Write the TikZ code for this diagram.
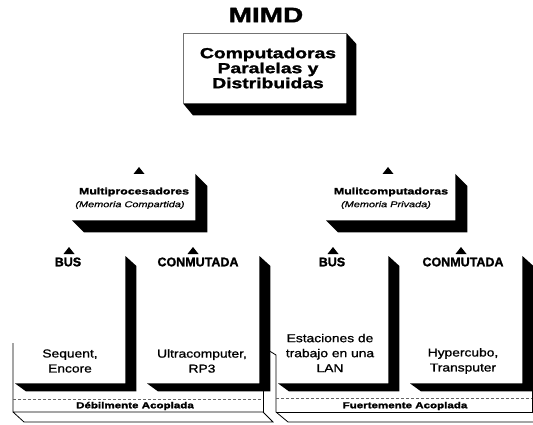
\documentclass[tikz,border=0pt]{standalone}
\usepackage{fontspec}
\setmainfont{Liberation Sans}
\newfontfamily\hvA[FakeStretch=1.33,RawFeature={embolden=1.8}]{Liberation Sans Bold}
\newfontfamily\hvC[RawFeature={embolden=1.6}]{Liberation Sans Bold}
\newfontfamily\itA[FakeStretch=1.3,RawFeature={embolden=0.6}]{Liberation Sans Italic}
\newfontfamily\stB[FakeStretch=1.2,RawFeature={embolden=1.0}]{Liberation Sans}
\usetikzlibrary{calc}
\begin{document}
\begin{tikzpicture}[x=1pt,y=-1pt,
  wbox/.style={draw=none,fill=white,inner sep=0pt,anchor=north west},
  shade3d/.style={fill=black},
  tri/.style={fill=black},
  lbl/.style={inner sep=0pt,align=center},
  plat/.style={draw=black,line width=0.8pt}]
\useasboundingbox[fill=white] (0,0) rectangle (533,425);

% platforms
\draw[plat] (13,343) -- (13,412) -- (24,422) -- (273,422) -- (263,412) -- (13,412);
\draw[plat] (263,385) -- (263,412);
\draw[black!60,line width=0.5pt,dash pattern=on 3pt off 2pt] (13,399) -- (263,399);
\draw[plat] (263,347) -- (276,355) -- (276,412) -- (288,422) -- (533,422);
\draw[plat] (276,412) -- (533,412);
\draw[plat] (532,385) -- (532,412);
\draw[black!60,line width=0.5pt,dash pattern=on 3pt off 2pt] (276,398) -- (532,398);

% boxes
\node[wbox,minimum width=163pt,minimum height=70pt] (top) at (183,33) {};
\node[wbox,minimum width=123pt,minimum height=46pt] (mp) at (72,174) {};
\node[wbox,minimum width=129pt,minimum height=46pt] (mc) at (326,174) {};
\node[wbox,minimum width=110pt,minimum height=127pt] (bus1) at (15,256) {};
\node[wbox,minimum width=112pt,minimum height=127pt] (con1) at (147,256) {};
\node[wbox,minimum width=110pt,minimum height=127pt] (bus2) at (278,256) {};
\node[wbox,minimum width=112pt,minimum height=127pt] (con2) at (410,256) {};

% top box border
\draw[black!55,line width=0.6pt] (top.south west) -- (top.north west) -- (top.north east);

% shadows
\fill[shade3d] (top.north east) -- ++(10,11) -- ($(top.south east)+(10,12)$) -- ($(top.south west)+(10,12)$) -- (top.south west) -- (top.south east) -- cycle;
\foreach \b in {mp,mc}{
  \fill[shade3d] (\b.north east) -- ++(12,12) -- ($(\b.south east)+(12,12)$) -- ($(\b.south west)+(12,12)$) -- (\b.south west) -- (\b.south east) -- cycle;
}
\foreach \b in {bus1,con1,bus2,con2}{
  \fill[shade3d] (\b.north east) -- ++(11,10) -- ($(\b.south east)+(11,8)$) -- ($(\b.south west)+(11,8)$) -- (\b.south west) -- (\b.south east) -- cycle;
}

% triangles
\foreach \x/\y in {139/174, 388/174, 69/254, 193/254, 333/254, 461/254}{
  \fill[tri] (\x-5.5,\y) -- (\x+5.5,\y) -- (\x,\y-7) -- cycle;
}

% texts
\node[lbl,font=\hvA\fontsize{21}{21}\selectfont] (mimd) at (266,15) {MIMD};
\node[lbl,font=\hvA\fontsize{14.5}{15}\selectfont] (toptxt) at (268,68) {Computadoras\\Paralelas y\\Distribuidas};

\node[lbl,font=\hvA\fontsize{9.3}{10}\selectfont] (mpt) at (134,192) {Multiprocesadores};
\node[lbl,font=\itA\fontsize{8.4}{10}\selectfont] (mps) at (130,205) {(Memoria Compartida)};
\node[lbl,font=\hvA\fontsize{9.3}{10}\selectfont] (mct) at (391,192) {Mulitcomputadoras};
\node[lbl,font=\itA\fontsize{8.4}{10}\selectfont] (mcs) at (386,205) {(Memoria Privada)};

\node[lbl,font=\hvC\fontsize{12.5}{13}\selectfont] (bus1t) at (68,262) {BUS};
\node[lbl,font=\hvC\fontsize{12.5}{13}\selectfont] (con1t) at (198,262) {CONMUTADA};
\node[lbl,font=\hvC\fontsize{12.5}{13}\selectfont] (bus2t) at (332,262) {BUS};
\node[lbl,font=\hvC\fontsize{12.5}{13}\selectfont] (con2t) at (463,262) {CONMUTADA};

\node[lbl,font=\stB\fontsize{11.5}{15}\selectfont] (bus1b) at (70,361) {Sequent,\\Encore};
\node[lbl,font=\stB\fontsize{11.5}{15}\selectfont] (con1b) at (202,361) {Ultracomputer,\\RP3};
\node[lbl,font=\stB\fontsize{11.5}{15}\selectfont] (bus2b) at (330,353) {Estaciones de\\trabajo en una\\LAN};
\node[lbl,font=\stB\fontsize{11.5}{15}\selectfont] (con2b) at (463,361) {Hypercubo,\\Transputer};

\node[lbl,font=\hvA\fontsize{8.7}{10}\selectfont] (p1) at (135,406) {Débilmente Acoplada};
\node[lbl,font=\hvA\fontsize{8.7}{10}\selectfont] (p2) at (405,406) {Fuertemente Acoplada};
\end{tikzpicture}
\end{document}
